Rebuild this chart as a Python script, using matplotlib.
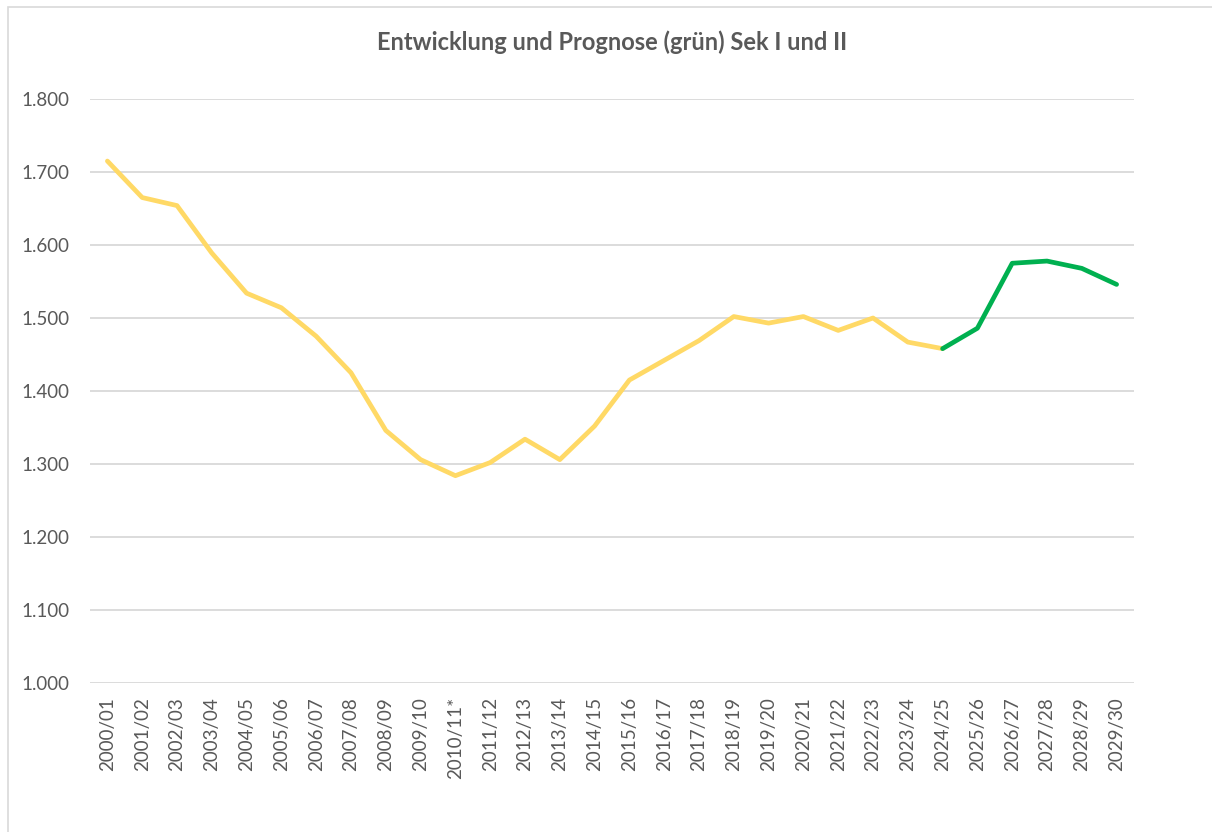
import matplotlib.pyplot as plt
from matplotlib.ticker import FuncFormatter, MultipleLocator
from matplotlib.patches import Rectangle

plt.rcParams['font.family'] = ['Lato', 'DejaVu Sans']

school_years = ["2000/01", "2001/02", "2002/03", "2003/04", "2004/05", "2005/06",
                "2006/07", "2007/08", "2008/09", "2009/10", "2010/11*", "2011/12",
                "2012/13", "2013/14", "2014/15", "2015/16", "2016/17", "2017/18",
                "2018/19", "2019/20", "2020/21", "2021/22", "2022/23", "2023/24",
                "2024/25", "2025/26", "2026/27", "2027/28", "2028/29", "2029/30"]

# observed development (yellow), up to 2024/25
actual = [1715, 1665, 1654, 1589, 1534, 1514, 1475, 1425, 1346, 1306,
          1284, 1302, 1334, 1306, 1352, 1415, 1442, 1469, 1502, 1493,
          1502, 1483, 1500, 1467, 1458]
# forecast (green), starting at 2024/25
forecast = [1458, 1486, 1575, 1578, 1568, 1546]

yellow = '#FFD966'
green = '#00B050'
grey_txt = '#595959'

fig = plt.figure(figsize=(12.12, 8.32), dpi=100)
ax = fig.add_axes([90 / 1212, 1 - 683 / 832, (1134 - 90) / 1212, (683 - 99) / 832])

x_act = list(range(len(actual)))
x_fc = list(range(len(actual) - 1, len(actual) - 1 + len(forecast)))

ax.plot(x_act, actual, color=yellow, lw=3.4, solid_capstyle='round', solid_joinstyle='round', zorder=3)
ax.plot(x_fc, forecast, color=green, lw=3.4, solid_capstyle='round', solid_joinstyle='round', zorder=4)

ax.set_xlim(-0.5, len(school_years) - 0.5)
ax.set_ylim(1000, 1800)
ax.yaxis.set_major_locator(MultipleLocator(100))
ax.yaxis.set_major_formatter(FuncFormatter(lambda v, p: f"{v:,.0f}".replace(",", ".")))
ax.set_xticks(range(len(school_years)))
ax.set_xticklabels(school_years, rotation=90)

ax.grid(axis='y', color='#d9d9d9', lw=1.3, zorder=0)
for s in ax.spines.values():
    s.set_visible(False)
ax.tick_params(axis='both', length=0, labelsize=13.5, colors=grey_txt)
ax.tick_params(axis='y', pad=15)
ax.tick_params(axis='x', pad=10)

fig.text(612 / 1212, 1 - 42 / 832, "Entwicklung und Prognose (grün) Sek I und II",
         ha='center', va='center', fontsize=17, fontweight='bold', color=grey_txt)

# outer chart frame
fig.patches.append(Rectangle((8 / 1212, -0.1), 1.1, 1 - 7 / 832 + 0.1, transform=fig.transFigure,
                             fill=False, edgecolor='#d9d9d9', lw=1.2))

plt.savefig("out.png", dpi=100)
plt.close()
